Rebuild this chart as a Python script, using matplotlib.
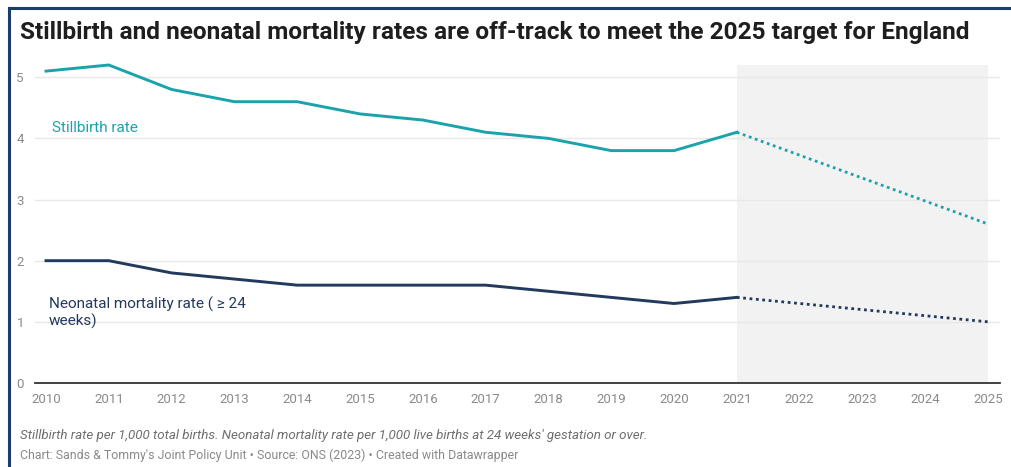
import matplotlib.pyplot as plt
from matplotlib.lines import Line2D

plt.rcParams['font.family'] = ['Roboto', 'DejaVu Sans']

years = [2010, 2011, 2012, 2013, 2014, 2015, 2016, 2017, 2018, 2019, 2020, 2021]
stillbirth = [5.1, 5.2, 4.8, 4.6, 4.6, 4.4, 4.3, 4.1, 4.0, 3.8, 3.8, 4.1]
neonatal = [2.0, 2.0, 1.8, 1.7, 1.6, 1.6, 1.6, 1.6, 1.5, 1.4, 1.3, 1.4]

# trajectory to the 2025 target
target_years = [2021, 2025]
stillbirth_target = [4.1, 2.6]
neonatal_target = [1.4, 1.0]

xticks = list(range(2010, 2026))
yticks = [0, 1, 2, 3, 4, 5]

teal = '#1ba3ab'
navy = '#23395d'

W, H = 1012, 467
fig = plt.figure(figsize=(W / 100, H / 100), dpi=100)
ax = fig.add_axes([35 / W, (H - 383) / H, 965 / W, 318 / H])

ax.set_xlim(2009.825, 2025.19)
ax.set_ylim(0, 5.2)

# projection period
ax.axvspan(2021, 2025, color='#f2f2f2', zorder=0, lw=0)

ax.plot(years, stillbirth, color=teal, lw=2.1, zorder=3, clip_on=False)
ax.plot(years, neonatal, color=navy, lw=2.1, zorder=3, clip_on=False)
ax.plot(target_years, stillbirth_target, color=teal, lw=2,
        ls=(0, (1, 1.3)), zorder=3)
ax.plot(target_years, neonatal_target, color=navy, lw=2,
        ls=(0, (1, 1.3)), zorder=3)

ax.set_yticks(yticks)
ax.set_yticklabels([str(v) for v in yticks])
ax.set_xticks(xticks)
ax.set_xticklabels([str(v) for v in xticks])
ax.tick_params(axis='both', length=0, colors='#8a8a8a', labelsize=9.5)
ax.tick_params(axis='y', pad=8)
ax.tick_params(axis='x', pad=7)
ax.grid(axis='y', color='#e8e8e8', lw=1)
ax.set_axisbelow(True)
for s in ['top', 'right', 'left']:
    ax.spines[s].set_visible(False)
ax.spines['bottom'].set_color('#333333')
ax.spines['bottom'].set_linewidth(1.3)
ax.spines['bottom'].set_zorder(4)
ax.patch.set_alpha(0)

ax.text(2010.1, 4.17, 'Stillbirth rate', color=teal, fontsize=11, va='center')
ax.text(2010.05, 1.15, 'Neonatal mortality rate ( ≥ 24\nweeks)', color=navy,
        fontsize=11, va='center', linespacing=1.1)

fig.text(20 / W, 1 - 33 / H,
         'Stillbirth and neonatal mortality rates are off-track to meet the 2025 target for England',
         fontsize=17.6, fontweight='bold', color='#1e1e1e', va='center')
fig.text(20 / W, 1 - 436 / H,
         "Stillbirth rate per 1,000 total births. Neonatal mortality rate per 1,000 live births at 24 weeks' gestation or over.",
         fontsize=9.6, style='italic', color='#6e6e6e', va='center')
fig.text(20 / W, 1 - 455 / H,
         "Chart: Sands & Tommy's Joint Policy Unit • Source: ONS (2023) • Created with Datawrapper",
         fontsize=8.9, color='#8a8a8a', va='center')

# frame lines along the left and top edges
fig.add_artist(Line2D([9 / W, 9 / W], [0, 1 - 8 / H], transform=fig.transFigure,
                      color='#1d3c6e', lw=2.2))
fig.add_artist(Line2D([9 / W, 1], [1 - 8 / H, 1 - 8 / H], transform=fig.transFigure,
                      color='#1d3c6e', lw=2.2))

fig.savefig('out.png', dpi=100, facecolor='white')
